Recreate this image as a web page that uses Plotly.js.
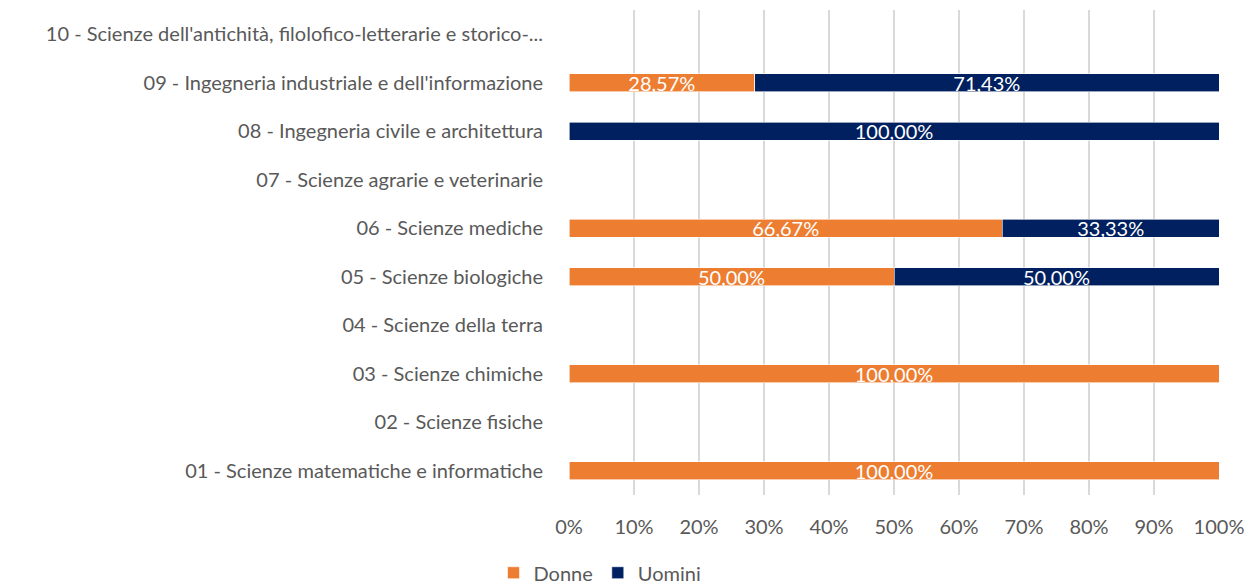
<!DOCTYPE html>
<html>
<head>
<meta charset="utf-8">
<script src="https://cdn.plot.ly/plotly-3.0.1.min.js"></script>
<style>body{margin:0;background:#fff}#plot{width:1250px;height:588px}</style>
</head>
<body>
<div id="plot"></div>
<script>
// Categories, bottom to top
var areas = [
  '01 - Scienze matematiche e informatiche',
  '02 - Scienze fisiche',
  '03 - Scienze chimiche',
  '04 - Scienze della terra',
  '05 - Scienze biologiche',
  '06 - Scienze mediche',
  '07 - Scienze agrarie e veterinarie',
  '08 - Ingegneria civile e architettura',
  "09 - Ingegneria industriale e dell'informazione",
  "10 - Scienze dell'antichità, filolofico-letterarie e storico-..."
];

var donne  = [100, 0, 100, 0, 50, 66.67, 0, 0, 28.57, 0];
var uomini = [0, 0, 0, 0, 50, 33.33, 0, 100, 71.43, 0];

var tickVals = [0, 10, 20, 30, 40, 50, 60, 70, 80, 90, 100];
var tickText = ['0%', '10%', '20%', '30%', '40%', '50%', '60%', '70%', '80%', '90%', '100%'];

function pct(v) {
  return v > 0 ? v.toFixed(2).replace('.', ',') + '%' : '';
}

var font = 'Lato, sans-serif';

var tDonne = {
  type: 'bar', orientation: 'h', name: 'Donne',
  y: areas, x: donne, text: donne.map(pct),
  textposition: 'inside', insidetextanchor: 'middle',
  textfont: {color: '#ffffff', size: 20, family: font},
  marker: {color: '#ED7D31', line: {color: '#ffffff', width: 0.6}},
  hoverinfo: 'x+y+name'
};

var tUomini = {
  type: 'bar', orientation: 'h', name: 'Uomini',
  y: areas, x: uomini, text: uomini.map(pct),
  textposition: 'inside', insidetextanchor: 'middle',
  textfont: {color: '#ffffff', size: 20, family: font},
  marker: {color: '#002060', line: {color: '#ffffff', width: 0.6}},
  hoverinfo: 'x+y+name'
};

var layout = {
  barmode: 'stack',
  bargap: 0.63,
  width: 1250, height: 588,
  margin: {l: 569, r: 31, t: 10, b: 93},
  font: {family: font, color: '#595959', size: 20},
  paper_bgcolor: '#ffffff', plot_bgcolor: '#ffffff',
  xaxis: {
    range: [0, 100], tickvals: tickVals, ticktext: tickText,
    showgrid: true, gridcolor: '#d9d9d9', gridwidth: 1.5,
    zeroline: false, showline: false,
    ticks: 'outside', ticklen: 14, tickcolor: 'rgba(0,0,0,0)',
    tickfont: {size: 20, color: '#595959'}, automargin: false, fixedrange: true
  },
  yaxis: {
    type: 'category', categoryorder: 'array', categoryarray: areas,
    showgrid: false, zeroline: false, showline: false,
    ticks: 'outside', ticklen: 21, tickcolor: 'rgba(0,0,0,0)',
    tickfont: {size: 20, color: '#595959'}, automargin: false, fixedrange: true
  },
  legend: {
    orientation: 'h', traceorder: 'normal',
    x: 0.48, xref: 'container', xanchor: 'center',
    y: 0.026, yref: 'container', yanchor: 'middle',
    font: {size: 20, color: '#595959'}, itemwidth: 30, itemclick: false
  },
  showlegend: true,
  uniformtext: {mode: 'show', minsize: 10}
};

Plotly.newPlot('plot', [tDonne, tUomini], layout, {displayModeBar: false, staticPlot: true});
</script>
</body>
</html>
